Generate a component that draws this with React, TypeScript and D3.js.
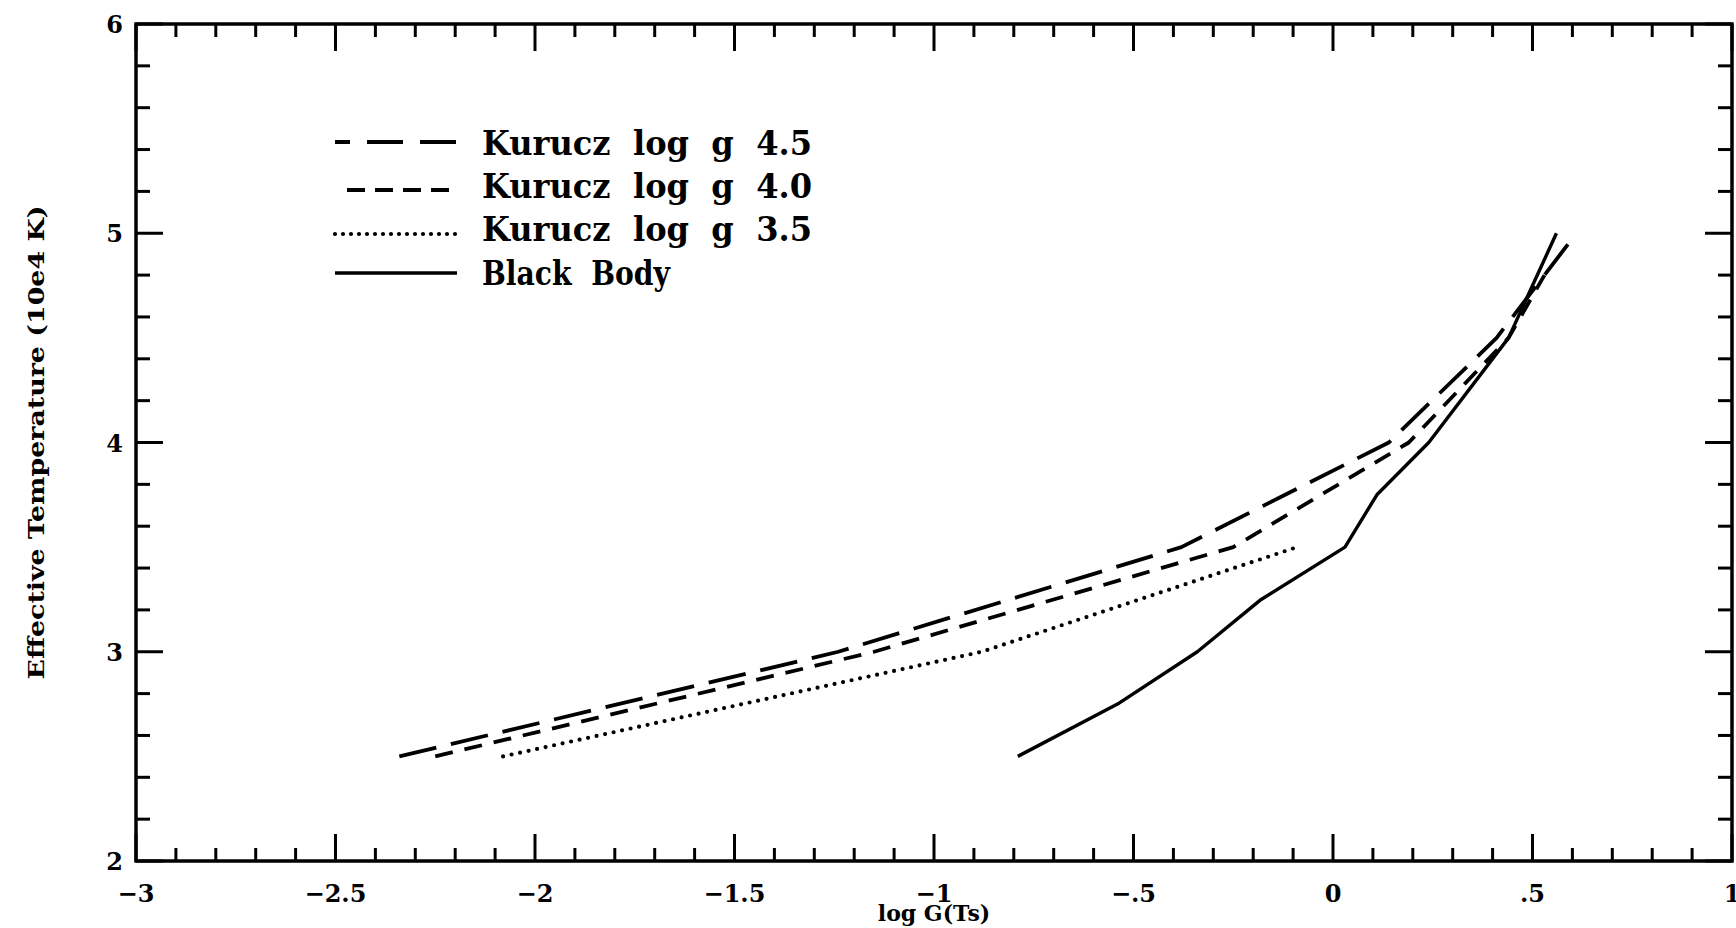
import * as d3 from 'd3';

// axis ticks
const xTicks = [-3, -2.5, -2, -1.5, -1, -0.5, 0, 0.5, 1];
const xTickLabels = ['\u22123', '\u22122.5', '\u22122', '\u22121.5', '\u22121', '\u2212.5', '0', '.5', '1'];
const yTicks = [2, 3, 4, 5, 6];
const yTickLabels = ['2', '3', '4', '5', '6'];

// series: log G(Ts) vs effective temperature (10e4 K)
const kurucz45X = [-2.34, -1.24, -0.38, 0.14, 0.41, 0.61];
const kurucz45Y = [2.5, 3.0, 3.5, 4.0, 4.5, 5.0];
const kurucz40X = [-2.25, -1.15, -0.25, 0.19, 0.44, 0.53];
const kurucz40Y = [2.5, 3.0, 3.5, 4.0, 4.5, 4.8];
const kurucz35X = [-2.08, -0.88, -0.09];
const kurucz35Y = [2.5, 3.0, 3.5];
const blackBodyX = [-0.79, -0.54, -0.34, -0.18, 0.03, 0.11, 0.24, 0.44, 0.56];
const blackBodyY = [2.5, 2.75, 3.0, 3.25, 3.5, 3.75, 4.0, 4.5, 5.0];

const seriesNames = ['Kurucz  log  g  4.5', 'Kurucz  log  g  4.0', 'Kurucz  log  g  3.5', 'Black  Body'];

const W = 1736;
const H = 928;
const left = 136, right = 1732, top = 24, bottom = 861;
const font = '"DejaVu Serif", "Liberation Serif", serif';

const x = d3.scaleLinear().domain([-3, 1]).range([left, right]);
const y = d3.scaleLinear().domain([2, 6]).range([bottom, top]);

const line = d3.line<[number, number]>()
  .x(d => x(d[0]))
  .y(d => y(d[1]));

const zip = (xs: number[], ys: number[]) => xs.map((v, i) => [v, ys[i]] as [number, number]);

const series = [
  { name: seriesNames[0], pts: zip(kurucz45X, kurucz45Y), dash: '38 15', cap: 'butt', w: 3.8, legendDash: '15 17 36 17 36', legendW: 122 },
  { name: seriesNames[1], pts: zip(kurucz40X, kurucz40Y), dash: '18 12', cap: 'butt', w: 3.8, legendDash: '18 10', legendW: 110 },
  { name: seriesNames[2], pts: zip(kurucz35X, kurucz35Y), dash: '0 8.7', cap: 'round', w: 4.2, legendDash: '0 8', legendW: 122 },
  { name: seriesNames[3], pts: zip(blackBodyX, blackBodyY), dash: 'none', cap: 'butt', w: 3.4, legendDash: 'none', legendW: 122 },
];

const legendBaselines = [155, 198, 241, 285];
const legendLineY = [142, 190, 234, 273];
const legendTextLen = [330, 330, 330, 188];

export default function App() {
  const xMinor = d3.range(-3, 1.0001, 0.1);
  const yMinor = d3.range(2, 6.0001, 0.2);
  const isMajorX = (v: number) => Math.abs(v * 2 - Math.round(v * 2)) < 1e-6;
  const isMajorY = (v: number) => Math.abs(v - Math.round(v)) < 1e-6;

  return (
    <svg width={W} height={H} style={{ position: 'absolute', left: 0, top: 0, background: '#fff' }}>
      {/* frame */}
      <rect x={left} y={top} width={right - left} height={bottom - top} fill="none" stroke="#000" strokeWidth={3.5} />

      {/* x ticks bottom + top */}
      {xMinor.map((v, i) => {
        const len = isMajorX(v) ? 27 : 13;
        return (
          <g key={'xt' + i} stroke="#000" strokeWidth={3}>
            <line x1={x(v)} x2={x(v)} y1={bottom} y2={bottom - len} />
            <line x1={x(v)} x2={x(v)} y1={top} y2={top + len} />
          </g>
        );
      })}

      {/* y ticks left + right */}
      {yMinor.map((v, i) => {
        const len = isMajorY(v) ? 27 : 14;
        return (
          <g key={'yt' + i} stroke="#000" strokeWidth={3}>
            <line x1={left} x2={left + len} y1={y(v)} y2={y(v)} />
            <line x1={right} x2={right - len} y1={y(v)} y2={y(v)} />
          </g>
        );
      })}

      {/* tick labels */}
      {xTicks.map((v, i) => (
        <text key={'xl' + i} x={x(v)} y={902} textAnchor="middle" fontFamily={font} fontWeight="bold" fontSize={24}>
          {xTickLabels[i]}
        </text>
      ))}
      {yTicks.map((v, i) => (
        <text key={'yl' + i} x={123} y={y(v) + 9} textAnchor="end" fontFamily={font} fontWeight="bold" fontSize={24}>
          {yTickLabels[i]}
        </text>
      ))}

      {/* axis titles */}
      <text x={(left + right) / 2} y={921} textAnchor="middle" fontFamily={font} fontWeight="bold" fontSize={22}>
        log G(Ts)
      </text>
      <text
        transform={`translate(44, ${(top + bottom) / 2}) rotate(-90)`}
        textAnchor="middle"
        fontFamily={font}
        fontWeight="bold"
        fontSize={22}
        textLength={474}
        lengthAdjust="spacingAndGlyphs"
      >
        Effective Temperature (10e4 K)
      </text>

      {/* curves */}
      {series.map((s, i) => (
        <path
          key={'c' + i}
          d={line(s.pts) || ''}
          fill="none"
          stroke="#000"
          strokeWidth={s.w}
          strokeDasharray={s.dash}
          strokeLinecap={s.cap as any}
          strokeLinejoin="round"
        />
      ))}

      {/* legend */}
      {series.map((s, i) => (
        <g key={'lg' + i}>
          <line
            x1={457 - s.legendW}
            x2={457}
            y1={legendLineY[i]}
            y2={legendLineY[i]}
            stroke="#000"
            strokeWidth={s.w}
            strokeDasharray={s.legendDash}
            strokeLinecap={s.cap as any}
          />
          <text
            x={482}
            y={legendBaselines[i]}
            fontFamily={font}
            fontWeight="bold"
            fontSize={33}
            textLength={legendTextLen[i]}
            lengthAdjust="spacingAndGlyphs"
            style={{ whiteSpace: 'pre' }}
          >
            {s.name}
          </text>
        </g>
      ))}
    </svg>
  );
}
